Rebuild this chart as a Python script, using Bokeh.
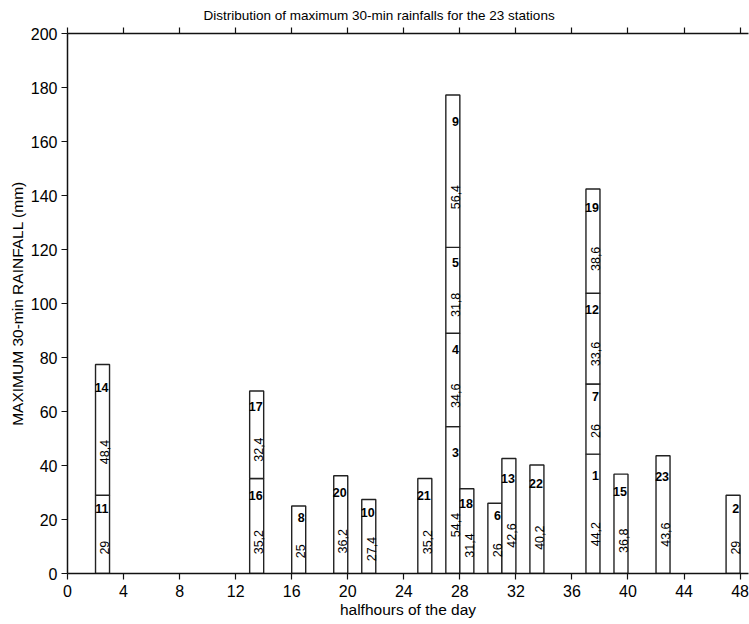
import math
from bokeh.plotting import figure
from bokeh.models import ColumnDataSource, Range1d, FixedTicker, LinearAxis
from bokeh.core.properties import value
from bokeh.embed import file_html
from bokeh.resources import INLINE

# ---- data ----
halfhour = [3, 3, 14, 14, 17, 20, 22, 26, 28, 28, 28, 28, 29, 31, 32, 34, 38, 38, 38, 38, 40, 43, 48]
station = [11, 14, 16, 17, 8, 20, 10, 21, 3, 4, 5, 9, 18, 6, 13, 22, 1, 7, 12, 19, 15, 23, 2]
rainfall = [29, 48.4, 35.2, 32.4, 25, 36.2, 27.4, 35.2, 54.4, 34.6, 31.8, 56.4, 31.4, 26, 42.6,
            40.2, 44.2, 26, 33.6, 38.6, 36.8, 43.6, 29]
x_ticks = list(range(0, 49, 4))
y_ticks = list(range(0, 201, 20))

FONT = "Liberation Sans"

# stack segments per half hour
bottoms, tops, acc = [], [], {}
for h, r in zip(halfhour, rainfall):
    b = acc.get(h, 0.0)
    bottoms.append(b)
    tops.append(b + r)
    acc[h] = b + r

left = [h - 1 for h in halfhour]
right = [h for h in halfhour]
val_x = [h - 0.34 for h in halfhour]
val_txt = [("%g" % r).replace(".", ",") for r in rainfall]
val_y = [b + 0.33 * r for b, r in zip(bottoms, rainfall)]
st_txt = [str(s) for s in station]
st_y = [t - 0.175 * r for t, r in zip(tops, rainfall)]

src = ColumnDataSource(dict(left=left, right=right, bottom=bottoms, top=tops, val_x=val_x,
                            val_txt=val_txt, val_y=val_y, st_txt=st_txt, st_y=st_y))

p = figure(width=749, height=624, x_range=Range1d(0, 48.6), y_range=Range1d(0, 200),
           output_backend="svg", toolbar_location=None,
           min_border_left=67, min_border_right=1, min_border_top=33, min_border_bottom=51)
p.outline_line_color = None
p.grid.grid_line_color = None
p.background_fill_color = "white"

p.title.text = "Distribution of maximum 30-min rainfalls for the 23 stations"
p.title.text_font = FONT
p.title.text_font_size = "13.5px"
p.title.text_font_style = "normal"
p.title.text_color = "black"
p.title.align = "left"
p.title.offset = 136
p.title.standoff = 10

p.quad(left="left", right="right", bottom="bottom", top="top", source=src,
       fill_color="white", line_color="#222222", line_width=1.4)

p.text(x="val_x", y="val_y", text="val_txt", source=src, angle=math.pi / 2,
       text_align="center", text_baseline="middle",
       text_font=value(FONT), text_font_size="12.5px", text_color="black")
p.text(x="right", y="st_y", text="st_txt", source=src, x_offset=-1,
       text_align="right", text_baseline="middle",
       text_font=value(FONT), text_font_size="12.5px", text_font_style="bold",
       text_color="black")

for ax in (p.xaxis[0], p.yaxis[0]):
    ax.axis_line_color = "#111111"
    ax.axis_line_width = 1.5
    ax.major_tick_line_color = "#111111"
    ax.major_tick_line_width = 1.2
    ax.major_tick_out = 6
    ax.major_tick_in = 0
    ax.minor_tick_line_color = None
    ax.major_label_text_font = FONT
    ax.major_label_text_font_size = "16px"
    ax.major_label_text_color = "black"
    ax.axis_label_text_font = FONT
    ax.axis_label_text_font_size = "15.5px"
    ax.axis_label_text_font_style = "normal"
    ax.axis_label_text_color = "black"

p.xaxis[0].ticker = FixedTicker(ticks=x_ticks)
p.yaxis[0].ticker = FixedTicker(ticks=y_ticks)
p.xaxis[0].axis_label = "halfhours of the day"
p.yaxis[0].axis_label = "MAXIMUM 30-min RAINFALL (mm)"
p.xaxis[0].major_label_standoff = 5
p.xaxis[0].axis_label_standoff = 1
p.yaxis[0].major_label_standoff = 4
p.yaxis[0].axis_label_standoff = 2

top_ax = LinearAxis(ticker=FixedTicker(ticks=x_ticks))
top_ax.axis_line_color = "#111111"
top_ax.axis_line_width = 1.5
top_ax.major_tick_line_color = "#111111"
top_ax.major_tick_line_width = 1.2
top_ax.major_tick_out = 6
top_ax.major_tick_in = 0
top_ax.minor_tick_line_color = None
top_ax.major_label_overrides = {t: " " for t in x_ticks}
top_ax.major_label_text_color = None
top_ax.major_label_text_font_size = "1px"
top_ax.major_label_standoff = 0
p.add_layout(top_ax, "above")

open("out.html", "w").write(file_html(p, INLINE))
